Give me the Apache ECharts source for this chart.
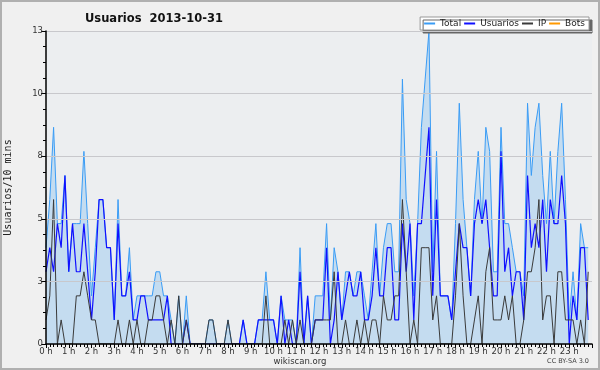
<!DOCTYPE html>
<html><head><meta charset="utf-8">
<script src="https://cdn.jsdelivr.net/npm/echarts@6/dist/echarts.min.js"></script>
<style>html,body{margin:0;padding:0;background:#f0f0f0}#c{width:600px;height:370px}</style>
</head><body><div id="c"></div>
<script>
const hourLabels = ['0 h','1 h','2 h','3 h','4 h','5 h','6 h','7 h','8 h','9 h','10 h','11 h','12 h','13 h','14 h','15 h','16 h','17 h','18 h','19 h','20 h','21 h','22 h','23 h'];
const yTickLabels = ['0','3','5','8','10','13'];
const total = [
4,6,9,5,5,7,3,5,5,5,8,5,2,4,6,6,4,4,1,6,2,2,4,1,
2,2,2,2,2,3,3,2,2,1,0,2,0,2,0,0,0,0,0,1,1,0,0,0,
1,0,0,0,1,0,0,0,1,1,3,1,1,0,2,1,1,1,0,4,0,2,0,2,
2,2,5,1,4,3,1,3,3,2,3,3,2,1,3,5,2,4,5,5,3,3,11,6,
5,2,5,9,11,13,3,8,2,2,2,1,5,10,6,4,2,6,8,5,9,8,3,3,
9,5,5,4,3,3,2,10,7,9,10,7,5,8,5,8,10,6,1,3,1,5,4,4];
const usuarios = [
3,4,3,5,4,7,3,5,3,3,5,3,1,3,6,6,4,4,1,5,2,2,3,1,
1,2,2,1,1,1,1,1,2,0,0,0,0,1,0,0,0,0,0,0,0,0,0,0,
0,0,0,0,1,0,0,0,1,1,1,1,1,0,2,0,1,0,0,3,0,2,0,1,
1,1,4,0,1,3,1,2,3,2,2,3,1,1,2,4,2,2,4,4,1,1,5,3,
5,1,5,5,7,9,2,6,2,2,2,1,3,5,4,4,2,5,6,5,6,4,2,2,
8,3,4,2,3,3,1,7,4,5,4,6,3,6,5,5,7,5,0,2,1,4,4,1];
const ip = [
1,2,6,0,1,0,0,0,2,2,3,2,1,1,0,0,0,0,0,1,0,0,1,0,
1,0,0,1,1,2,2,1,0,1,0,2,0,1,0,0,0,0,0,1,1,0,0,0,
1,0,0,0,0,0,0,0,0,0,2,0,0,0,0,1,0,1,0,1,0,0,0,1,
1,1,1,1,3,0,0,1,0,0,1,0,1,0,1,1,0,2,1,1,2,2,6,3,
0,1,0,4,4,4,1,2,0,0,0,0,2,5,2,0,0,1,2,0,3,4,1,1,
1,2,1,2,0,0,1,3,3,4,6,1,2,2,0,3,3,1,1,1,0,1,0,3];
const bots = [
0,0,0,0,0,0,0,0,0,0,0,0,0,0,0,0,0,0,0,0,0,0,0,0,
0,0,0,0,0,0,0,0,0,0,0,0,0,0,0,0,0,0,0,0,0,0,0,0,
0,0,0,0,0,0,0,0,0,0,0,0,0,0,0,0,0,0,0,0,0,0,0,0,
0,0,0,0,0,0,0,0,0,0,0,0,0,0,0,0,0,0,0,0,0,0,0,0,
0,0,0,0,0,0,0,0,0,0,0,0,0,0,0,0,0,0,0,0,0,0,0,0,
0,0,0,0,0,0,0,0,0,0,0,0,0,0,0,0,0,0,0,0,0,0,0,0];

const pairs = arr => arr.map((v, i) => [i, v]);
const FONT = 'DejaVu Sans';
const chart = echarts.init(document.getElementById('c'), null, {renderer: 'canvas'});
chart.setOption({
  animation: false,
  backgroundColor: '#f0f0f0',
  title: {
    text: 'Usuarios  2013-10-31', left: 80, top: 8,
    textStyle: {fontFamily: FONT, fontWeight: 'bold', fontSize: 11.5, color: '#111'}
  },
  legend: {
    right: 11, top: 17, itemWidth: 11, itemHeight: 2, itemGap: 3, icon: 'rect',
    padding: [2, 4, 2, 4],
    backgroundColor: '#ffffff', borderColor: '#999', borderWidth: 1,
    shadowColor: '#666666', shadowOffsetX: 3, shadowOffsetY: 3, shadowBlur: 0,
    textStyle: {fontFamily: FONT, fontSize: 9, color: '#222'},
    data: ['Total', 'Usuarios', 'IP', 'Bots']
  },
  grid: {left: 46, right: 8, top: 31, bottom: 26, outerBoundsMode: 'none',
    show: true, backgroundColor: '#eceef0', borderWidth: 0},
  xAxis: {
    type: 'value', min: 0, max: 144, interval: 6, z: 5,
    axisLine: {lineStyle: {color: '#000', width: 1.5}},
    axisTick: {show: true, length: 4, lineStyle: {color: '#000'}},
    minorTick: {show: true, splitNumber: 6, length: 3, lineStyle: {color: '#000'}},
    splitLine: {show: false},
    axisLabel: {margin: 3, fontFamily: FONT, fontSize: 8.5, color: '#333',
      formatter: v => (v % 6 === 0 && v < 144) ? hourLabels[v / 6] : ''}
  },
  yAxis: {
    type: 'value', min: 0, max: 13, interval: 2.6, z: 5,
    name: 'Usuarios/10 mins', nameLocation: 'middle', nameRotate: 90, nameGap: 33,
    nameTextStyle: {fontFamily: 'DejaVu Sans Mono', fontSize: 10, color: '#222'},
    axisLine: {show: true, lineStyle: {color: '#000', width: 1.5}},
    axisTick: {show: true, length: 5, lineStyle: {color: '#000'}},
    minorTick: {show: true, splitNumber: 4, length: 3, lineStyle: {color: '#000'}},
    splitLine: {show: true, lineStyle: {color: '#c8c8cc', width: 1}},
    axisLabel: {margin: 3, fontFamily: FONT, fontSize: 8.5, color: '#333',
      formatter: v => yTickLabels[Math.round(v / 2.6)]}
  },
  series: [
    {name: 'Total', type: 'line', data: pairs(total), symbol: 'none',
     lineStyle: {color: '#3a9cf5', width: 1}, itemStyle: {color: '#3a9cf5'},
     areaStyle: {color: '#c4dcf0', opacity: 1}},
    {name: 'Usuarios', type: 'line', data: pairs(usuarios), symbol: 'none',
     lineStyle: {color: '#1010ff', width: 1.2}, itemStyle: {color: '#1010ff'}},
    {name: 'IP', type: 'line', data: pairs(ip), symbol: 'none',
     lineStyle: {color: '#3a3a3a', width: 1}, itemStyle: {color: '#3a3a3a'}},
    {name: 'Bots', type: 'line', data: pairs(bots), symbol: 'none', z: 1,
     lineStyle: {color: '#ff9900', width: 1}, itemStyle: {color: '#ff9900'}}
  ],
  graphic: [
    {type: 'rect', shape: {x: 1, y: 1, width: 598, height: 368}, silent: true,
     style: {fill: 'none', stroke: '#b0b0b0', lineWidth: 2}},
    {type: 'text', left: 'center', top: 357, silent: true,
     style: {text: 'wikiscan.org', fontFamily: FONT, fontSize: 8.5, fill: '#333'}},
    {type: 'text', right: 11, top: 358, silent: true,
     style: {text: 'CC BY-SA 3.0', fontFamily: FONT, fontSize: 6.5, fill: '#444'}}
  ]
});
</script></body></html>
